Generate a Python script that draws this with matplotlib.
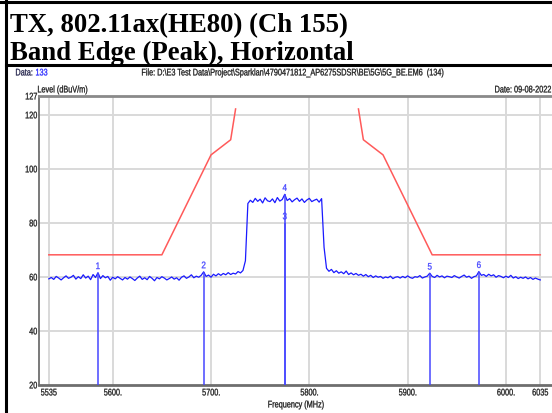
import numpy as np
import matplotlib
matplotlib.use("Agg")
import matplotlib.pyplot as plt
from matplotlib.lines import Line2D
from matplotlib.textpath import TextPath
from matplotlib.patches import PathPatch
from matplotlib.font_manager import FontProperties
from matplotlib.transforms import Affine2D, IdentityTransform

# spectrum trace, 2.5 MHz steps from 5535 to 6035 MHz
freq = np.arange(5535, 6035.1, 2.5)
noise_low = [
    59.3, 59.8, 59.1, 60.2, 59.6, 58.9, 59.7, 60.4, 59.5, 59.9,
    60.6, 59.2, 60.1, 59.4, 60.8, 59.6, 60.3, 59.0, 60.9, 59.8,
    61.6, 59.4, 60.5, 59.7, 60.2, 58.8, 59.9, 59.3, 60.1, 59.5,
    58.9, 59.8, 59.2, 60.0, 59.4, 58.7, 59.6, 60.3, 59.1, 59.7,
    59.0, 60.2, 59.5, 58.6, 59.8, 59.3, 60.1, 59.6, 58.9, 59.4,
    60.0, 59.2, 59.7, 58.8, 59.9, 60.4, 59.5, 60.0, 60.8, 59.7,
    60.3, 59.9, 60.6, 61.9, 60.2, 60.7, 59.9, 61.0, 60.4, 61.2,
    60.6, 61.3, 60.8, 61.6, 60.9, 61.4, 61.1, 62.0, 61.5, 62.4,
]
rise = [66.0]
plateau = [
    87.2, 88.4, 87.6, 89.1, 88.0, 88.8, 87.4, 89.3, 88.2, 87.9,
    88.9, 87.5, 89.4, 88.1, 88.7, 90.6, 88.3, 89.0, 87.8, 88.6,
    89.2, 88.0, 88.9, 87.6, 88.5, 89.1, 87.9, 88.4, 88.8, 87.7, 89.0,
]
fall = [71.0, 63.2]
noise_high = [
    62.1, 62.8, 61.6, 62.3, 61.4, 61.9, 61.2, 62.2, 60.9, 61.5,
    60.8, 61.3, 60.6, 61.0, 60.3, 60.9, 60.1, 60.6, 59.8, 60.4,
    59.9, 60.2, 59.5, 60.0, 59.7, 60.3, 59.4, 59.9, 60.1, 59.6,
    60.2, 59.7, 60.4, 59.8, 59.5, 60.1, 59.9, 60.5, 59.6, 60.0,
    60.3, 61.4, 60.2, 59.8, 60.6, 60.0, 60.4, 59.7, 60.3, 60.1,
    59.8, 60.5, 60.0, 59.6, 60.2, 60.7, 59.9, 60.3, 59.5, 60.1,
    60.4, 62.0, 60.6, 60.9, 60.2, 61.0, 60.4, 60.8, 59.9, 60.5,
    60.2, 59.7, 60.3, 59.8, 60.6, 59.6, 60.1, 59.4, 59.9, 59.5,
    60.0, 59.3, 59.8, 59.1, 59.6, 59.2, 58.9,
]
level = np.array(noise_low + rise + plateau + fall + noise_high)

# limit line (two pieces)
limit_freq = [5535, 5650, 5700, 5720, 5725, np.nan, 5850, 5855, 5875, 5925, 6035]
limit_level = [68.2, 68.2, 105.2, 110.8, 122.2, np.nan, 122.2, 110.8, 105.2, 68.2, 68.2]

# markers
marker_freq = [5585, 5692.5, 5775, 5775, 5922.5, 5972.5]
marker_level = [61.6, 61.9, 80.0, 90.6, 61.4, 62.0]
marker_label = ["1", "2", "3", "4", "5", "6"]

xticks = [5535, 5600, 5700, 5800, 5900, 6000, 6035]
xtick_labels = ["5535", "5600.", "5700.", "5800.", "5900.", "6000.", "6035"]
yticks = [20, 40, 60, 80, 100, 120, 127]

W, H = 552, 414
NARROW = FontProperties(family="Liberation Sans")
TITLE = FontProperties(family=["Liberation Serif", "DejaVu Serif"], weight="bold", size=19.3)

fig = plt.figure(figsize=(W / 100, H / 100), dpi=100)
fig.patch.set_facecolor("white")


def fline(x0, y0, x1, y1, **kw):
    fig.add_artist(Line2D([x0 / W, x1 / W], [1 - y0 / H, 1 - y1 / H],
                          transform=fig.transFigure, **kw))


def ntext(x, y, s, size=9.6, color="#1c1c1c", ha="left", sx=0.76):
    # condensed sans text, x/y in pixels from top-left, y = vertical centre
    tp = TextPath((0, 0), s, size=size, prop=NARROW)
    bb = tp.get_extents()
    dx = {"left": -bb.x0, "center": -(bb.x0 + bb.x1) / 2, "right": -bb.x1}[ha]
    dy = -size * 0.716 / 2
    tr = Affine2D().translate(dx, dy).scale(sx, 1).translate(x, H - y)
    p = PathPatch(tr.transform_path(tp), facecolor=color, edgecolor=color,
                  lw=0.2, transform=IdentityTransform())
    fig.add_artist(p)


# page borders
fline(0, 3, W, 3, color="black", lw=2.2)
fline(6, 0, 6, H, color="black", lw=2.2)
fline(6, 66, W, 66, color="black", lw=2.2)

fig.text(10 / W, 1 - 32 / H, "TX, 802.11ax(HE80) (Ch 155)", fontproperties=TITLE,
         va="baseline", ha="left")
fig.text(10 / W, 1 - 60 / H, "Band Edge (Peak), Horizontal", fontproperties=TITLE,
         va="baseline", ha="left")

ntext(16, 73, "Data:", color="#22224a")
ntext(36, 73, "133", color="#2a2aff")
ntext(142, 73, r"File: D:\E3 Test Data\Project\Sparklan\4790471812_AP6275SDSR\BE\5G\5G_BE.EM6  (134)")
ntext(38, 90, "Level (dBuV/m)")
ntext(551, 90, "Date: 09-08-2022", ha="right")
ntext(296, 405, "Frequency (MHz)", ha="center")

ax = fig.add_axes([39 / W, 1 - 386 / H, (W - 39) / W, (386 - 97) / H])
ax.set_xlim(5525.0, 6046.9)
ax.set_ylim(20, 127)

for y in [40, 60, 80, 100, 120]:
    ax.axhline(y, color="#d9d9d9", lw=1.4, zorder=0)
for x in xticks:
    ax.axvline(x, color="#d9d9d9", lw=1.4, zorder=0)

ax.plot(limit_freq, limit_level, color="#ff5a5a", lw=1.1, zorder=2)
ax.plot(freq, level, color="#1a1aff", lw=0.9, zorder=3)

for f, v in zip(marker_freq, marker_level):
    ax.vlines(f, 20, v, color="#4646ff", lw=1.1, zorder=3)

ax.set_xticks(xticks)
ax.set_yticks(yticks)
ax.set_xticklabels([])
ax.set_yticklabels([])
ax.tick_params(length=0)

for side in ["left", "bottom", "top"]:
    ax.spines[side].set_color("#6e6e6e")
ax.spines["left"].set_linewidth(1.3)
ax.spines["bottom"].set_linewidth(2.0)
ax.spines["top"].set_linewidth(2.0)
ax.spines["top"].set_color("#8a8a8a")
ax.spines["right"].set_visible(False)

# tick labels and marker numbers in the condensed font, placed via the data transform
fig.canvas.draw()
to_px = ax.transData
for x, lab in zip(xticks, xtick_labels):
    px, py = to_px.transform((x, 20))
    ntext(px, H - py + 7, lab, ha="center")
for y in yticks:
    px, py = to_px.transform((5525.0, y))
    ntext(px - 2, H - py, str(y), ha="right")
for f, v, lab in zip(marker_freq, marker_level, marker_label):
    px, py = to_px.transform((f, v))
    ntext(px, H - py - 7, lab, color="#4646ff", ha="center", size=9.5, sx=0.85)

fig.savefig("out.png", dpi=100)
